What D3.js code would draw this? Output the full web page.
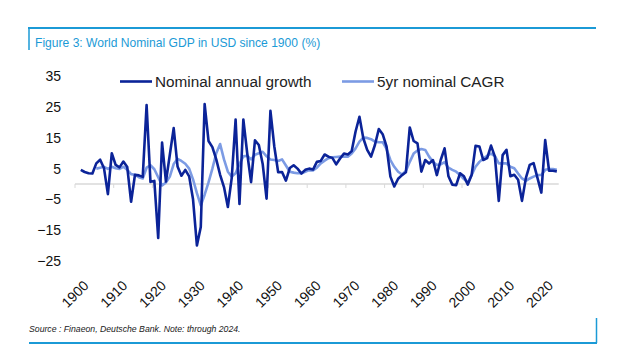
<!DOCTYPE html>
<html>
<head>
<meta charset="utf-8">
<script src="https://cdn.jsdelivr.net/npm/d3@7"></script>
<style>
  html, body { margin: 0; padding: 0; background: #ffffff; }
  svg { display: block; font-family: "Liberation Sans", Arial, sans-serif; }
</style>
</head>
<body>
<svg id="chart" width="644" height="351"></svg>
<script>
// ---------- data ----------
const firstYear = 1900;
const lastYear = 2024;
const years = d3.range(firstYear, lastYear + 1);

// Nominal annual growth (%), 1900 blank, 1901..2024
const annualGrowth = [
  null,
  4.6, 3.9, 3.5, 3.4, 6.7, 7.9, 5.1, -3.3, 10.0, 6.2,      // 1901-1910
  5.4, 7.3, 5.5, -5.8, 3.0, 2.8, 2.3, 25.7, 0.7, 1.0,      // 1911-1920
  -17.6, 13.5, 0.8, 9.5, 18.2, 5.7, 2.7, 4.6, 2.5, -5.0,   // 1921-1930
  -20.0, -14.0, 26.0, 14.0, 12.0, 8.0, 3.0, -1.0, -7.5, 2.0, // 1931-1940
  21.0, -6.5, 21.0, 10.0, 0.6, 14.2, 12.7, 6.5, -4.8, 23.8, // 1941-1950
  12.2, 3.8, 3.9, 1.1, 5.2, 6.1, 5.0, 3.4, 4.6, 5.0,       // 1951-1960
  4.7, 7.2, 7.5, 9.6, 8.9, 8.5, 6.4, 8.3, 9.9, 9.6,        // 1961-1970
  10.7, 17.1, 21.9, 14.9, 11.1, 8.9, 12.7, 17.9, 16.2, 12.2, // 1971-1980
  2.4, -0.8, 1.7, 2.9, 3.8, 18.4, 14.0, 13.2, 4.0, 7.8,    // 1981-1990
  6.7, 7.8, 2.9, 7.8, 11.6, 2.5, -0.2, -0.4, 3.5, 2.5,     // 1991-2000
  -0.2, 3.0, 12.4, 12.2, 7.8, 8.4, 12.5, 8.9, -5.5, 9.4,   // 2001-2010
  11.1, 2.5, 3.0, 1.4, -5.5, 1.9, 6.2, 6.8, 2.0, -2.8,     // 2011-2020
  14.3, 4.3, 4.3, 4.1                                      // 2021-2024
];

// 5yr nominal CAGR (%), 1900-1904 blank, 1905..2024
const cagr5y = [
  null, null, null, null, null,
  5.0, 5.3, 5.6, 4.9, 5.6,                                 // 1905-1909
  5.1, 4.9, 5.6, 4.6, 3.2, 3.0, 2.2, 1.8, 5.3, 6.1,        // 1910-1919
  4.8, 2.2, -0.5, 0.5, 2.4, 6.5, 8.2, 7.5, 6.6, 5.0,       // 1920-1929
  1.5, -3.0, -7.0, -3.5, 0.5, 5.0, 10.0, 13.0, 8.0, 4.0,   // 1930-1939
  2.4, 3.5, 6.5, 9.0, 9.2, 8.0, 9.5, 10.0, 10.5, 9.0,      // 1940-1949
  8.0, 7.8, 7.5, 8.0, 6.0, 4.0, 3.7, 3.5, 3.5, 4.0,        // 1950-1959
  4.5, 4.4, 5.3, 6.7, 7.6, 8.4, 8.7, 8.8, 8.9, 8.9,        // 1960-1969
  8.9, 9.9, 11.6, 13.8, 15.1, 15.0, 14.6, 13.8, 13.6, 13.6, // 1970-1979
  11.4, 7.8, 5.6, 4.0, 3.1, 4.2, 7.2, 9.9, 10.9, 11.4,     // 1980-1989
  11.1, 8.9, 7.2, 6.2, 6.4, 7.1, 5.3, 4.6, 4.0, 2.9,       // 1990-1999
  1.6, 0.5, 2.9, 5.6, 7.2, 8.3, 9.2, 9.9, 9.1, 6.7,        // 2000-2009
  6.7, 6.7, 5.6, 5.1, 3.4, 1.8, 1.0, 1.8, 2.4, 2.9,        // 2010-2019
  2.9, 4.6, 4.9, 4.9, 4.6                                  // 2020-2024
];

const yTickValues = [-25, -15, -5, 5, 15, 25, 35];
const xTickYears = d3.range(1900, 2021, 10);
const seriesNames = ["Nominal annual growth", "5yr nominal CAGR"];
const titleText = "Figure 3: World Nominal GDP in USD since 1900 (%)";
const sourceText = "Source : Finaeon, Deutsche Bank. Note: through 2024.";

// ---------- styles ----------
const darkBlue = "#0b2398";
const lightBlue = "#7c9be4";
const frameBlue = "#1b9ad6";

// ---------- drawing ----------
const svg = d3.select("#chart");
svg.append("rect").attr("width", 644).attr("height", 351).attr("fill", "#ffffff");

const x = d3.scaleBand().domain(years).range([75, 558.75]).paddingInner(0).paddingOuter(0);
const cx = yr => x(yr) + x.bandwidth() / 2;
const y = d3.scaleLinear().domain([-25, 35]).range([260.75, 76.5]);

// frame
svg.append("line").attr("x1", 28).attr("x2", 596).attr("y1", 28).attr("y2", 28)
  .attr("stroke", frameBlue).attr("stroke-width", 2);
svg.append("line").attr("x1", 29).attr("x2", 29).attr("y1", 28).attr("y2", 50)
  .attr("stroke", frameBlue).attr("stroke-width", 1.5);
svg.append("line").attr("x1", 29).attr("x2", 597).attr("y1", 343).attr("y2", 343)
  .attr("stroke", frameBlue).attr("stroke-width", 2);
svg.append("line").attr("x1", 596.5).attr("x2", 596.5).attr("y1", 318).attr("y2", 343)
  .attr("stroke", frameBlue).attr("stroke-width", 1.5);

// title
svg.append("text").attr("x", 35).attr("y", 46.5)
  .attr("font-size", 12.1).attr("fill", frameBlue).text(titleText);

// source
svg.append("text").attr("x", 29).attr("y", 332)
  .attr("font-size", 8.7).attr("font-style", "italic").attr("fill", "#222").text(sourceText);

// y axis labels
const yAxis = d3.axisLeft(y).tickValues(yTickValues).tickSize(0).tickPadding(0);
const gy = svg.append("g").attr("transform", "translate(61,0)").call(yAxis);
gy.select(".domain").remove();
gy.selectAll("text").attr("font-size", 14).attr("fill", "#111")
  .attr("font-family", "Liberation Sans, Arial, sans-serif");

// x axis (at zero)
const xAxis = d3.axisBottom(x).tickValues(xTickYears).tickSize(4).tickFormat(() => "");
const gx = svg.append("g").attr("transform", `translate(${-x.bandwidth() / 2},${y(0)})`).call(xAxis);
gx.select(".domain").remove();
gx.selectAll(".tick line").attr("stroke", "#d9d9d9").attr("stroke-width", 1);
svg.append("line").attr("x1", x.range()[0]).attr("x2", x.range()[1])
  .attr("y1", y(0)).attr("y2", y(0)).attr("stroke", "#d9d9d9").attr("stroke-width", 1.5);

// x labels, rotated
svg.append("g").selectAll("text").data(xTickYears).join("text")
  .attr("transform", d => `translate(${x(d)},294) rotate(-45)`)
  .attr("text-anchor", "middle").attr("dominant-baseline", "central")
  .attr("font-size", 14).attr("fill", "#111").text(d => d);

// lines
const lineGen = d3.line()
  .defined(d => d.v !== null)
  .x(d => cx(d.year)).y(d => y(d.v));

const cagrData = years.map((yr, i) => ({ year: yr, v: cagr5y[i] }));
const growthData = years.map((yr, i) => ({ year: yr, v: annualGrowth[i] }));

svg.append("path").datum(cagrData).attr("d", lineGen)
  .attr("fill", "none").attr("stroke", lightBlue).attr("stroke-width", 2.6)
  .attr("stroke-linejoin", "round");
svg.append("path").datum(growthData).attr("d", lineGen)
  .attr("fill", "none").attr("stroke", darkBlue).attr("stroke-width", 2.6)
  .attr("stroke-linejoin", "round");

// legend
const legend = [
  { name: seriesNames[0], color: darkBlue, x0: 120 },
  { name: seriesNames[1], color: lightBlue, x0: 342 }
];
const lg = svg.append("g").selectAll("g").data(legend).join("g")
  .attr("transform", d => `translate(${d.x0},81.5)`);
lg.append("line").attr("x1", 0).attr("x2", 32).attr("y1", 0).attr("y2", 0)
  .attr("stroke", d => d.color).attr("stroke-width", 2.6);
lg.append("text").attr("x", 35).attr("y", 0).attr("dominant-baseline", "central")
  .attr("font-size", 15.3).attr("fill", "#222").text(d => d.name);
</script>
</body>
</html>
